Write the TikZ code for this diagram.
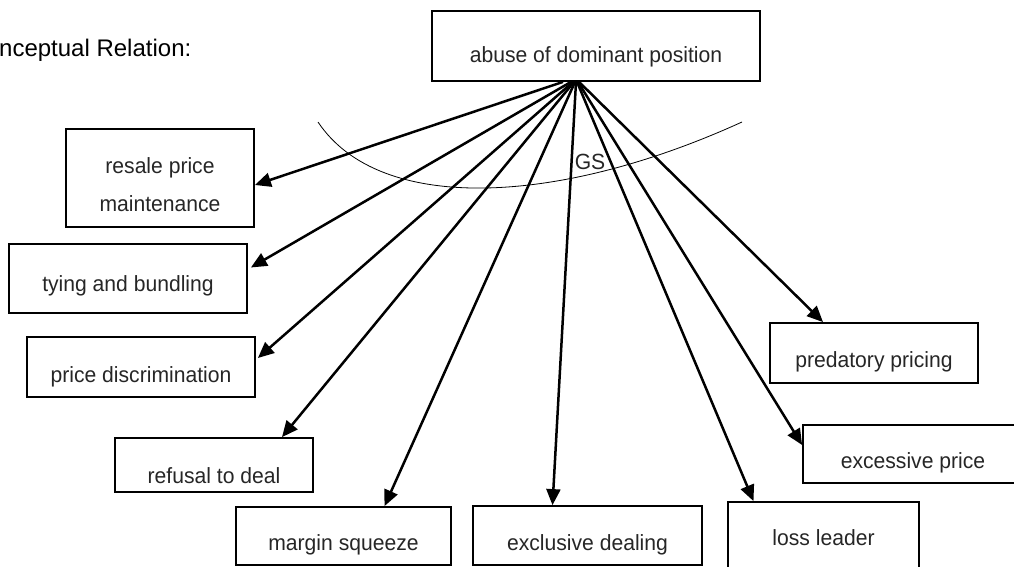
\documentclass[tikz,border=0pt]{standalone}
\usepackage{fontspec}
\setmainfont{Liberation Sans}
\newfontfamily\boxfont[FakeStretch=0.96]{Liberation Sans}
\usetikzlibrary{arrows.meta}

\begin{document}
\begin{tikzpicture}[x=1pt, y=-1pt,
	box/.style={draw, line width=1.8pt, inner sep=0pt, text=black!85, font=\boxfont\fontsize{22}{38}\selectfont},
	link/.style={-{Triangle[length=16pt,width=14pt]}, line width=2.5pt}]
					\clip (0,0) rectangle (1014,567);
					\node[anchor=base west, inner sep=0pt, font=\fontsize{24}{28}\selectfont] (title) at (-1,57) {nceptual Relation:};
					\node[box, minimum width=328pt, minimum height=70pt, text height=34pt, text depth=0pt] (abuse) at (596,46) {abuse of dominant position};
					\node[box, minimum width=188pt, minimum height=98pt, align=center] (resale) at (160,178) {\rule{0pt}{30pt}resale price\\maintenance};
					\node[box, minimum width=238pt, minimum height=69pt, text height=25pt, text depth=0pt] (tying) at (128,278.5) {tying and bundling};
					\node[box, minimum width=228pt, minimum height=60pt, text height=31pt, text depth=0pt] (pricedisc) at (141,367) {price discrimination};
					\node[box, minimum width=198pt, minimum height=54pt, text height=36pt, text depth=0pt] (refusal) at (214,465) {refusal to deal};
					\node[box, minimum width=215pt, minimum height=58pt, text height=28pt, text depth=0pt] (margin) at (343.5,536) {margin squeeze};
					\node[box, minimum width=229pt, minimum height=59pt, text height=30pt, text depth=0pt] (exclusive) at (587.5,535.5) {exclusive dealing};
					\node[box, minimum width=191pt, minimum height=78pt, text height=8pt, text depth=0pt] (lossleader) at (823.5,541) {loss leader};
					\node[box, minimum width=220pt, minimum height=58pt, text height=28pt, text depth=0pt] (excessive) at (913,454) {excessive price};
					\node[box, minimum width=208pt, minimum height=60pt, text height=29pt, text depth=0pt] (predatory) at (874,353) {predatory pricing};
					\draw[line width=0.8pt] (318,122) .. controls (380,215) and (560,205) .. (742,122);
					\node[anchor=base, inner sep=0pt, text=black!85, font=\boxfont\fontsize{22}{28}\selectfont] (gs) at (590,169) {GS};
					\draw[link] ([xshift=-33pt]abuse.south) -- ([yshift=-7pt]resale.east);
					\draw[link] ([xshift=-25pt]abuse.south) -- ([xshift=3pt,yshift=11pt]tying.east);
					\draw[link] ([xshift=-23pt]abuse.south) -- ([xshift=2pt,yshift=9pt]pricedisc.east);
					\draw[link] ([xshift=-22pt]abuse.south) -- ([xshift=68pt]refusal.north);
					\draw[link] ([xshift=-21pt]abuse.south) -- ([xshift=41pt]margin.north);
					\draw[link] ([xshift=-20pt]abuse.south) -- ([xshift=-35pt]exclusive.north);
					\draw[link] ([xshift=-19pt]abuse.south) -- ([xshift=-70pt]lossleader.north);
					\draw[link] ([xshift=-18pt]abuse.south) -- ([yshift=9pt]excessive.west);
					\draw[link] ([xshift=-17pt]abuse.south) -- ([xshift=-51pt]predatory.north);
				\end{tikzpicture}
\end{document}
